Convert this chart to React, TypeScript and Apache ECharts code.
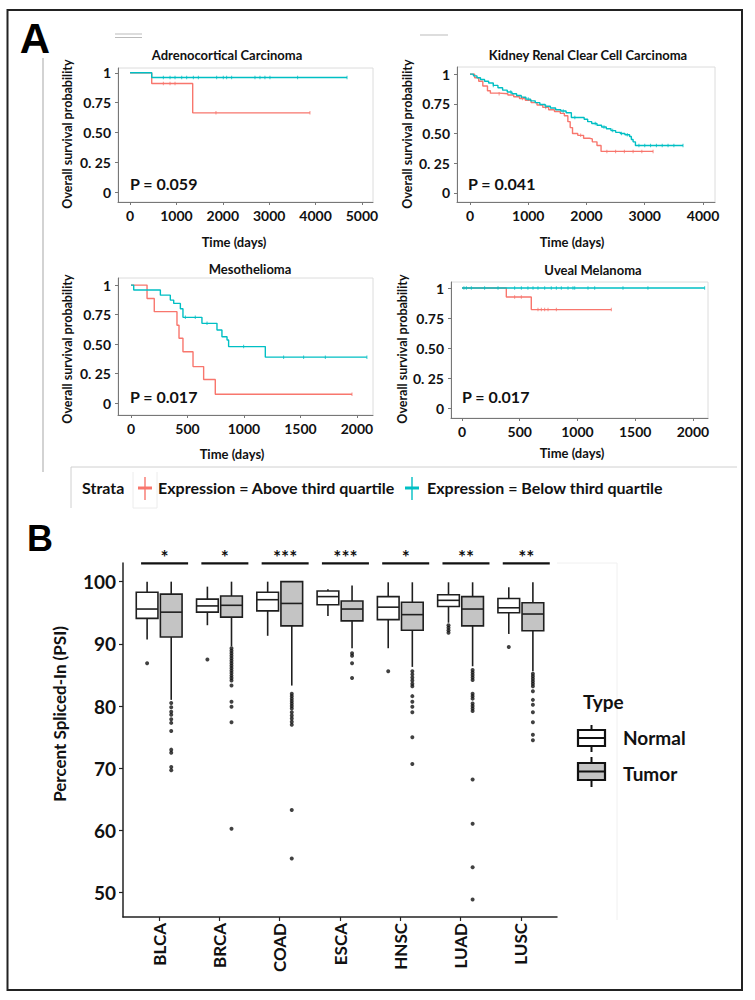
import React, { useEffect, useRef } from "react";
import * as echarts from "echarts";

const RED = "#F8766D";
const CYAN = "#00BFC4";
const FONT = "Lato, 'Open Sans', sans-serif";

// ---------- Panel A: Kaplan-Meier data ----------
const kmTitles = [
  "Adrenocortical Carcinoma",
  "Kidney Renal Clear Cell Carcinoma",
  "Mesothelioma",
  "Uveal Melanoma",
];
const pValues = ["P = 0.059", "P = 0.041", "P = 0.017", "P = 0.017"];
const survTickValues = [0, 0.25, 0.5, 0.75, 1];
const survTickLabels = ["0", "0. 25", "0.50", "0.75", "1"];
const accTimeTicks = [0, 1000, 2000, 3000, 4000, 5000];
const kircTimeTicks = [0, 1000, 2000, 3000, 4000];
const mesoTimeTicks = [0, 500, 1000, 1500, 2000];
const uvmTimeTicks = [0, 500, 1000, 1500, 2000];

// Adrenocortical Carcinoma
const accAboveTime = [0, 467, 1351, 3880];
const accAboveSurv = [1, 0.91, 0.665, 0.665];
const accBelowTime = [0, 467, 4680];
const accBelowSurv = [1, 0.96, 0.96];
const accAboveCensor = [718, 862, 970, 1853, 3880];
const accBelowCensor = [718, 862, 970, 1114, 1221, 1365, 1473, 1868, 2011, 2083, 2191, 2694, 2802, 2909, 3017, 3614, 4680];

// Kidney Renal Clear Cell Carcinoma
const kircAboveTime = [0, 80, 150, 220, 300, 350, 500, 650, 750, 850, 950, 1050, 1150, 1250, 1350, 1450, 1550, 1620, 1680, 1720, 1760, 1850, 1950, 2050, 2100, 2180, 2250, 3143];
const kircAboveSurv = [1, 0.97, 0.94, 0.9, 0.86, 0.84, 0.835, 0.825, 0.81, 0.795, 0.78, 0.76, 0.74, 0.72, 0.7, 0.685, 0.67, 0.65, 0.6, 0.55, 0.5, 0.485, 0.46, 0.455, 0.43, 0.4, 0.35, 0.35];
const kircBelowTime = [0, 60, 120, 180, 250, 320, 400, 480, 560, 640, 720, 800, 880, 960, 1040, 1120, 1200, 1290, 1380, 1470, 1560, 1650, 1740, 1960, 2020, 2090, 2180, 2260, 2340, 2420, 2500, 2580, 2660, 2740, 2770, 2800, 2840, 3657];
const kircBelowSurv = [1, 0.985, 0.97, 0.955, 0.94, 0.925, 0.905, 0.885, 0.865, 0.85, 0.835, 0.82, 0.805, 0.79, 0.775, 0.76, 0.745, 0.73, 0.715, 0.7, 0.69, 0.675, 0.635, 0.62, 0.6, 0.585, 0.57, 0.555, 0.54, 0.525, 0.51, 0.5, 0.49, 0.475, 0.45, 0.43, 0.4, 0.4];
const kircAboveCensor = [500, 900, 1300, 1900, 2350, 2500, 2650, 2800, 2950, 3143];
const kircBelowCensor = [400, 700, 1000, 1300, 1600, 1800, 2150, 2300, 2450, 2600, 2700, 2900, 3000, 3100, 3200, 3300, 3400, 3500, 3657];

// Mesothelioma
const mesoAboveTime = [0, 142, 206, 407, 425, 460, 549, 643, 746, 1956];
const mesoAboveSurv = [1, 0.887, 0.775, 0.66, 0.55, 0.435, 0.31, 0.2, 0.076, 0.076];
const mesoBelowTime = [0, 24, 260, 348, 378, 437, 460, 628, 761, 805, 850, 864, 1189, 2088];
const mesoBelowSurv = [1, 0.958, 0.915, 0.873, 0.845, 0.8, 0.727, 0.676, 0.62, 0.563, 0.535, 0.479, 0.39, 0.39];
const mesoAboveCensor = [1956];
const mesoBelowCensor = [481, 569, 673, 997, 1351, 1528, 1720, 2088];

// Uveal Melanoma
const uvmAboveTime = [0, 384, 600, 1293];
const uvmAboveSurv = [1, 0.925, 0.82, 0.82];
const uvmBelowTime = [0, 2101];
const uvmBelowSurv = [1, 1];
const uvmAboveCensor = [456, 514, 658, 687, 716, 745, 817, 1293];
const uvmBelowCensor = [17, 38, 81, 196, 312, 456, 514, 571, 615, 658, 716, 773, 817, 860, 918, 961, 976, 1091, 1149, 1394, 1610, 2101];

// ---------- Panel B: PSI box plots ----------
const categories = ["BLCA", "BRCA", "COAD", "ESCA", "HNSC", "LUAD", "LUSC"];
const significance = ["*", "*", "***", "***", "*", "**", "**"];
const psiTicks = [50, 60, 70, 80, 90, 100];
// [lower whisker, Q1, median, Q3, upper whisker]
const normalStats = [
  [90.7, 94.1, 95.6, 98.3, 100],
  [93.0, 95.1, 96.1, 97.2, 99.2],
  [91.3, 95.3, 97.1, 98.3, 100],
  [94.5, 96.3, 97.6, 98.5, 98.8],
  [89.3, 93.9, 95.9, 97.6, 99.9],
  [93.4, 96.0, 97.0, 97.9, 99.9],
  [91.6, 95.0, 95.8, 97.3, 99.1],
];
const tumorStats = [
  [81.0, 91.1, 95.1, 98.0, 100],
  [89.6, 94.3, 96.2, 97.7, 100],
  [83.3, 92.9, 96.5, 100, 100],
  [89.3, 93.7, 95.6, 96.9, 99.4],
  [86.3, 92.2, 94.7, 96.7, 99.9],
  [86.4, 92.9, 95.6, 97.6, 99.9],
  [85.6, 92.1, 94.8, 96.6, 99.9],
];
const normalOutliers = [
  [86.9],
  [87.5],
  [],
  [],
  [85.6],
  [93.0, 92.6, 92.2, 91.8],
  [89.5],
];
const tumorOutliers = [
  [80.5, 79.8, 79.1, 78.6, 77.9, 77.3, 76.0, 73.0, 72.5, 70.2, 69.7],
  [89.3, 88.9, 88.5, 88.1, 87.7, 87.3, 86.9, 86.5, 86.1, 85.7, 85.3, 84.9, 84.5, 84.1, 83.3, 80.7, 79.9, 77.4, 60.3],
  [82.0, 81.6, 81.2, 80.8, 80.4, 80.0, 79.6, 79.0, 78.5, 78.0, 77.5, 77.0, 63.3, 55.5],
  [88.5, 88.1, 86.9, 84.5],
  [85.6, 85.1, 84.6, 84.1, 83.6, 83.2, 81.6, 80.7, 79.9, 79.0, 75.0, 70.7],
  [85.8, 85.4, 85.0, 84.6, 84.2, 82.0, 81.6, 81.2, 80.4, 80.0, 79.6, 79.2, 68.2, 61.1, 54.1, 48.9],
  [85.2, 84.8, 84.4, 84.0, 83.6, 83.2, 82.4, 81.0, 80.2, 79.0, 77.4, 75.4, 74.5],
];

// ---------- layout ----------
const kmGrids = [
  { left: 118, top: 68, width: 255, height: 134 },
  { left: 457, top: 67, width: 258, height: 135 },
  { left: 118, top: 278, width: 255, height: 137 },
  { left: 451, top: 282, width: 257, height: 136 },
];
const kmRanges = [
  { xMin: -260, xMax: 5240, yMin: -0.08, yMax: 1.04 },
  { xMin: -223, xMax: 4206, yMin: -0.076, yMax: 1.06 },
  { xMin: -115, xMax: 2142, yMin: -0.1, yMax: 1.06 },
  { xMin: -95, xMax: 2130, yMin: -0.083, yMax: 1.05 },
];
const kmTitlePos = [[227, 55], [588, 55], [250, 269], [593, 270]];
const kmYLabelPos = [[67, 134], [407, 134], [67, 349], [402, 349]];
const kmXLabelPos = [[234, 242], [572, 242], [232, 454], [572, 453]];
const kmPPos = [[130, 183], [468, 183], [130, 396], [462, 396]];

const DODGE = 0.2;
const BOX_HALF = 0.18;

function stepValue(times: number[], surv: number[], t: number) {
  let v = surv[0];
  for (let i = 0; i < times.length; i++) if (times[i] <= t) v = surv[i];
  return v;
}

const kmPanels = [
  { aT: accAboveTime, aS: accAboveSurv, bT: accBelowTime, bS: accBelowSurv, aC: accAboveCensor, bC: accBelowCensor, ticks: accTimeTicks },
  { aT: kircAboveTime, aS: kircAboveSurv, bT: kircBelowTime, bS: kircBelowSurv, aC: kircAboveCensor, bC: kircBelowCensor, ticks: kircTimeTicks },
  { aT: mesoAboveTime, aS: mesoAboveSurv, bT: mesoBelowTime, bS: mesoBelowSurv, aC: mesoAboveCensor, bC: mesoBelowCensor, ticks: mesoTimeTicks },
  { aT: uvmAboveTime, aS: uvmAboveSurv, bT: uvmBelowTime, bS: uvmBelowSurv, aC: uvmAboveCensor, bC: uvmBelowCensor, ticks: uvmTimeTicks },
];

function txt(text: string, x: number, y: number, size: number, opts: any = {}) {
  return {
    type: "text",
    x,
    y,
    rotation: opts.rotation || 0,
    z: 20,
    style: {
      text,
      fontSize: size,
      fontWeight: opts.weight || "bold",
      fontFamily: opts.family || FONT,
      fill: opts.color || "#111",
      textAlign: opts.align || "center",
      textVerticalAlign: "middle",
      align: opts.align || "center",
      verticalAlign: "middle",
    },
  };
}
function ln(x1: number, y1: number, x2: number, y2: number, stroke: string, lineWidth: number) {
  return { type: "line", z: 20, shape: { x1, y1, x2, y2 }, style: { stroke, lineWidth } };
}

function buildOption() {
  const grid: any[] = [];
  const xAxis: any[] = [];
  const yAxis: any[] = [];
  const series: any[] = [];

  kmPanels.forEach((p, i) => {
    const g = kmGrids[i];
    const r = kmRanges[i];
    grid.push({ ...g, show: true, borderColor: "#dcdcdc", borderWidth: 1, backgroundColor: "transparent" });
    xAxis.push({
      gridIndex: i,
      type: "value",
      min: r.xMin,
      max: r.xMax,
      axisLine: { show: true, onZero: false, lineStyle: { color: "#777", width: 1 } },
      axisTick: { show: true, customValues: p.ticks, length: 3, lineStyle: { color: "#777" } },
      axisLabel: {
        customValues: p.ticks,
        fontFamily: FONT,
        fontWeight: "bold",
        fontSize: 14,
        color: "#111",
        margin: 6,
        formatter: (v: number) => String(Math.round(v)),
      },
      splitLine: { show: false },
    });
    yAxis.push({
      gridIndex: i,
      type: "value",
      min: r.yMin,
      max: r.yMax,
      axisLine: { show: true, onZero: false, lineStyle: { color: "#777", width: 1 } },
      axisTick: { show: true, customValues: survTickValues, length: 3, lineStyle: { color: "#777" } },
      axisLabel: {
        customValues: survTickValues,
        fontFamily: FONT,
        fontWeight: "bold",
        fontSize: 14,
        color: "#111",
        margin: 7,
        formatter: (v: number) => {
          const k = survTickValues.findIndex((t) => Math.abs(t - v) < 1e-6);
          return k >= 0 ? survTickLabels[k] : String(v);
        },
      },
      splitLine: { show: false },
    });
    const lines = [
      { t: p.aT, s: p.aS, c: p.aC, color: RED },
      { t: p.bT, s: p.bS, c: p.bC, color: CYAN },
    ];
    lines.forEach((l) => {
      series.push({
        type: "line",
        xAxisIndex: i,
        yAxisIndex: i,
        step: "end",
        showSymbol: false,
        silent: true,
        data: l.t.map((t, k) => [t, l.s[k]]),
        lineStyle: { color: l.color, width: 1.4 },
        itemStyle: { color: l.color },
        z: 3,
      });
      series.push({
        type: "scatter",
        xAxisIndex: i,
        yAxisIndex: i,
        symbol: "rect",
        symbolSize: [1, 3.5],
        silent: true,
        data: l.c.map((t) => [t, stepValue(l.t, l.s, t)]),
        itemStyle: { color: l.color },
        z: 4,
      });
    });
  });

  // Panel B
  const bi = 4;
  grid.push({ left: 123, top: 563, width: 434, height: 354 });
  xAxis.push({
    gridIndex: bi,
    type: "value",
    min: 0.4,
    max: 7.6,
    axisLine: { show: true, onZero: false, lineStyle: { color: "#222", width: 1.5 } },
    axisTick: { show: true, customValues: categories.map((_, k) => k + 1), length: 4, lineStyle: { color: "#222", width: 1.2 } },
    axisLabel: {
      customValues: categories.map((_, k) => k + 1),
      rotate: 90,
      fontFamily: FONT,
      fontWeight: "bold",
      fontSize: 17,
      color: "#111",
      margin: 6,
      formatter: (v: number) => categories[Math.round(v) - 1] || "",
    },
    splitLine: { show: false },
  });
  yAxis.push({
    gridIndex: bi,
    type: "value",
    min: 46.1,
    max: 103,
    axisLine: { show: true, onZero: false, lineStyle: { color: "#222", width: 1.5 } },
    axisTick: { show: true, customValues: psiTicks, length: 4, lineStyle: { color: "#222", width: 1.2 } },
    axisLabel: { customValues: psiTicks, fontFamily: FONT, fontWeight: "bold", fontSize: 19, color: "#111", margin: 7 },
    splitLine: { show: false },
  });

  const boxRender = (offset: number, fill: string) => (params: any, api: any) => {
    const c = api.value(0) + offset;
    const lo = api.coord([c, api.value(1)]);
    const q1 = api.coord([c - BOX_HALF, api.value(2)]);
    const md = api.coord([c + BOX_HALF, api.value(3)]);
    const q3 = api.coord([c + BOX_HALF, api.value(4)]);
    const hi = api.coord([c, api.value(5)]);
    const xl = q1[0];
    const xr = q3[0];
    const cx = lo[0];
    const st = { stroke: "#1f1f1f", lineWidth: 1.6 };
    return {
      type: "group",
      children: [
        { type: "line", shape: { x1: cx, y1: hi[1], x2: cx, y2: q3[1] }, style: st },
        { type: "line", shape: { x1: cx, y1: q1[1], x2: cx, y2: lo[1] }, style: st },
        { type: "rect", shape: { x: xl, y: q3[1], width: xr - xl, height: q1[1] - q3[1] }, style: { fill, stroke: "#1f1f1f", lineWidth: 1.6 } },
        { type: "line", shape: { x1: xl, y1: md[1], x2: xr, y2: md[1] }, style: st },
      ],
    };
  };

  const groups = [
    { stats: normalStats, out: normalOutliers, off: -DODGE, fill: "#ffffff" },
    { stats: tumorStats, out: tumorOutliers, off: DODGE, fill: "#c4c4c4" },
  ];
  groups.forEach((gp) => {
    series.push({
      type: "scatter",
      xAxisIndex: bi,
      yAxisIndex: bi,
      symbol: "circle",
      symbolSize: 4,
      silent: true,
      data: gp.out.flatMap((arr, k) => arr.map((v) => [k + 1 + gp.off, v])),
      itemStyle: { color: "#111" },
      z: 2,
    });
    series.push({
      type: "custom",
      xAxisIndex: bi,
      yAxisIndex: bi,
      silent: true,
      clip: false,
      renderItem: boxRender(gp.off, gp.fill),
      encode: { x: 0, y: [1, 2, 3, 4, 5] },
      data: gp.stats.map((s, k) => [k + 1, ...s]),
      z: 3,
    });
  });

  series.push({
    type: "custom",
    xAxisIndex: bi,
    yAxisIndex: bi,
    silent: true,
    clip: false,
    encode: { x: 0, y: 1 },
    data: categories.map((_, k) => [k + 1, 102.95, k]),
    renderItem: (params: any, api: any) => {
      const c = api.value(0);
      const a = api.coord([c - 0.3, api.value(1)]);
      const b = api.coord([c + 0.48, api.value(1)]);
      const mid = (a[0] + b[0]) / 2;
      const lab = significance[api.value(2)];
      return {
        type: "group",
        children: [
          { type: "line", shape: { x1: a[0], y1: a[1], x2: b[0], y2: b[1] }, style: { stroke: "#111", lineWidth: 2.2 } },
          {
            type: "text",
            x: mid,
            y: a[1] - 7,
            style: {
              text: lab,
              fontSize: 19,
              fontWeight: "bold",
              fontFamily: FONT,
              fill: "#111",
              textAlign: "center",
              textVerticalAlign: "middle",
              align: "center",
              verticalAlign: "middle",
            },
          },
        ],
      };
    },
    z: 5,
  });

  // ---------- graphic ----------
  const graphic: any[] = [];
  graphic.push({ type: "rect", z: 19, shape: { x: 7.5, y: 10, width: 734.5, height: 980 }, style: { fill: "none", stroke: "#222", lineWidth: 2 } });
  graphic.push(txt("A", 35, 38, 42, { family: "'Liberation Sans', Arial, sans-serif", color: "#000" }));
  graphic.push(txt("B", 40, 538, 36, { family: "'Liberation Sans', Arial, sans-serif", color: "#000" }));
  // faint decorative lines in panel A
  graphic.push(ln(115, 34, 142, 34, "#bbb", 1));
  graphic.push(ln(115, 37.5, 142, 37.5, "#bbb", 1));
  graphic.push(ln(420, 35, 448, 35, "#bbb", 1));
  graphic.push(ln(43, 58, 43, 472, "#c4c4c4", 1.5));
  // strata legend frame
  graphic.push(ln(71, 467, 737, 467, "#d0d0d0", 1));
  graphic.push(ln(71, 467, 71, 508, "#d0d0d0", 1));
  graphic.push(ln(133, 472, 133, 508, "#ececec", 1));
  graphic.push(ln(157, 472, 157, 508, "#ececec", 1));
  graphic.push(ln(133, 508, 157, 508, "#ececec", 1));
  graphic.push(txt("Strata", 82, 487, 16, { align: "left" }));
  graphic.push(ln(138, 488, 152, 488, RED, 3));
  graphic.push(ln(145, 477, 145, 500, RED, 1.4));
  graphic.push(txt("Expression = Above third quartile", 158, 487, 16, { align: "left" }));
  graphic.push(ln(405, 488, 419, 488, CYAN, 3));
  graphic.push(ln(412, 477, 412, 500, CYAN, 1.4));
  graphic.push(txt("Expression = Below third quartile", 427, 487, 16, { align: "left" }));

  kmTitles.forEach((t, i) => {
    graphic.push(txt(t, kmTitlePos[i][0], kmTitlePos[i][1], 13));
    graphic.push(txt("Overall survival probability", kmYLabelPos[i][0], kmYLabelPos[i][1], 12.5, { rotation: Math.PI / 2 }));
    graphic.push(txt("Time (days)", kmXLabelPos[i][0], kmXLabelPos[i][1], 13));
    graphic.push(txt(pValues[i], kmPPos[i][0], kmPPos[i][1], 16, { align: "left" }));
  });

  // panel B extras
  graphic.push(ln(557, 563, 617, 563, "#f0f0f0", 1));
  graphic.push(ln(617, 563, 617, 920, "#f0f0f0", 1));
  graphic.push(txt("Percent Spliced-In (PSI)", 59, 714, 17, { rotation: Math.PI / 2 }));
  graphic.push(txt("Type", 583, 701, 19, { align: "left" }));
  const legendItems = [
    { label: "Normal", fill: "#ffffff", top: 730, bottom: 746, wTop: 725, wBot: 752, ty: 737 },
    { label: "Tumor", fill: "#c4c4c4", top: 763, bottom: 780, wTop: 757, wBot: 787, ty: 773 },
  ];
  legendItems.forEach((it) => {
    graphic.push(ln(591.5, it.wTop, 591.5, it.wBot, "#111", 2));
    graphic.push({ type: "rect", z: 21, shape: { x: 578, y: it.top, width: 27, height: it.bottom - it.top }, style: { fill: it.fill, stroke: "#111", lineWidth: 2.2 } });
    graphic.push({ type: "line", z: 22, shape: { x1: 578, y1: (it.top + it.bottom) / 2, x2: 605, y2: (it.top + it.bottom) / 2 }, style: { stroke: "#111", lineWidth: 2 } });
    graphic.push(txt(it.label, 623, it.ty, 19, { align: "left" }));
  });

  return {
    animation: false,
    backgroundColor: "#ffffff",
    textStyle: { fontFamily: FONT },
    grid,
    xAxis,
    yAxis,
    series,
    graphic,
  };
}

export default function App() {
  const ref = useRef<HTMLDivElement>(null);
  useEffect(() => {
    if (!ref.current) return;
    const chart = echarts.init(ref.current, undefined, { renderer: "svg" });
    chart.setOption(buildOption() as any);
    return () => chart.dispose();
  }, []);
  return <div ref={ref} style={{ position: "absolute", left: 0, top: 0, width: 755, height: 1000 }} />;
}
